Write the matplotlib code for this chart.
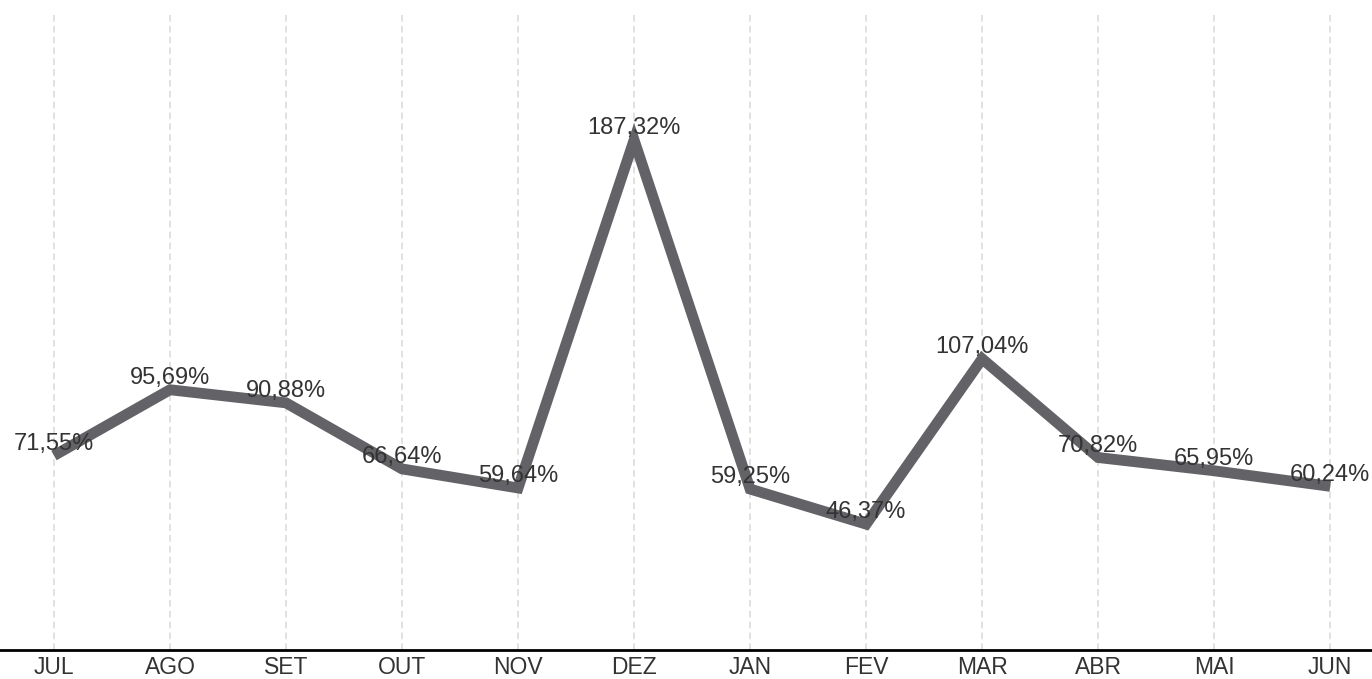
import matplotlib.pyplot as plt

# dados
meses = ['JUL', 'AGO', 'SET', 'OUT', 'NOV', 'DEZ', 'JAN', 'FEV', 'MAR', 'ABR', 'MAI', 'JUN']
valores = [71.55, 95.69, 90.88, 66.64, 59.64, 187.32, 59.25, 46.37, 107.04, 70.82, 65.95, 60.24]

plt.rcParams['font.family'] = ['Liberation Sans', 'DejaVu Sans']

fig = plt.figure(figsize=(13.72, 6.79), dpi=100)
ax = fig.add_axes([0.0, 0.042, 1.0, 0.939])

x = list(range(len(meses)))
ax.plot(x, valores, color='#636367', linewidth=7.8, solid_joinstyle='miter',
        solid_capstyle='butt', zorder=3)

for xi, v in zip(x, valores):
    texto = ('%.2f' % v).replace('.', ',') + '%'
    ax.annotate(texto, (xi, v), xytext=(0, 8.5), textcoords='offset points',
                ha='center', va='center', fontsize=17, color='#333333', zorder=4)

ax.set_xlim(-0.465, 11.36)
ax.set_ylim(0, 234)
ax.set_xticks(x)
ax.set_xticklabels(meses, fontsize=16.5, color='#333333')
ax.set_yticks([])
ax.tick_params(axis='x', length=0, pad=4)

ax.grid(axis='x', color='#dcdcdc', linestyle=(0, (4, 2.5)), linewidth=1.2, zorder=0)
for s in ['top', 'right', 'left']:
    ax.spines[s].set_visible(False)
ax.spines['bottom'].set_color('black')
ax.spines['bottom'].set_linewidth(2)

fig.savefig('out.png', dpi=100)
